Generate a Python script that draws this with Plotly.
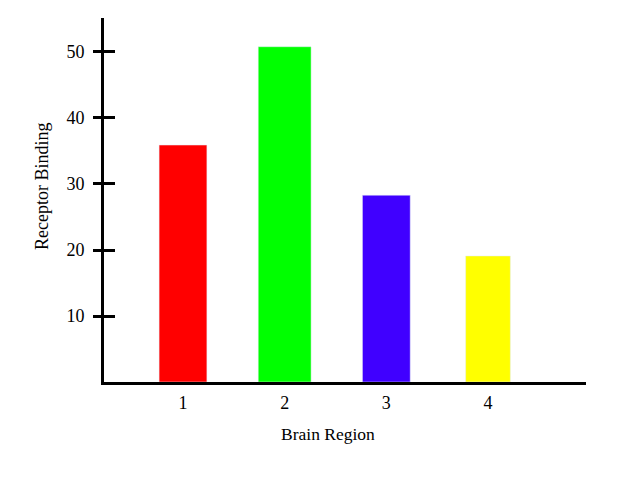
import plotly.graph_objects as go

regions = [1, 2, 3, 4]
region_labels = ["1", "2", "3", "4"]
binding = [35.9, 50.8, 28.3, 19.1]
bar_colors = ["#FF0000", "#00FF00", "#4000FF", "#FFFF00"]
bar_widths = [0.47, 0.52, 0.47, 0.44]
y_ticks = [10, 20, 30, 40, 50]

FONT = "Liberation Serif, Times New Roman, serif"

fig = go.Figure()
fig.add_trace(go.Bar(x=regions, y=binding, width=bar_widths,
                     marker=dict(color=bar_colors, line=dict(width=0)),
                     showlegend=False))
# invisible twin trace to carry the inner half of the y ticks
fig.add_trace(go.Bar(x=regions, y=binding, width=bar_widths, yaxis="y2",
                     marker=dict(color="rgba(0,0,0,0)"), hoverinfo="skip",
                     showlegend=False))

fig.update_layout(
    width=616, height=472,
    margin=dict(l=96, r=38, t=10, b=98),
    paper_bgcolor="white", plot_bgcolor="white",
    font=dict(family=FONT, size=18, color="black"),
    barmode="overlay",
    xaxis=dict(range=[0.223, 4.964], tickvals=regions, ticktext=region_labels,
               showgrid=False, zeroline=False, showline=True, linecolor="black",
               linewidth=3, ticks="", ticklabelstandoff=2),
    yaxis=dict(range=[0, 55.15], tickvals=y_ticks, showgrid=False, zeroline=False,
               showline=True, linecolor="black", linewidth=3,
               ticks="outside", ticklen=8, tickwidth=3, tickcolor="black",
               ticklabelstandoff=5),
    yaxis2=dict(range=[0, 55.15], overlaying="y", side="left", tickvals=y_ticks,
                showticklabels=False, showgrid=False, zeroline=False, showline=False,
                ticks="inside", ticklen=11, tickwidth=3, tickcolor="black"),
    annotations=[
        dict(text="Brain Region", xref="paper", yref="paper", x=(328 - 104) / 482,
             y=-(434 - 382) / 364, xanchor="center", yanchor="middle",
             showarrow=False, font=dict(family=FONT, size=17.5)),
        dict(text="Receptor Binding", xref="paper", yref="paper", x=-(104 - 42) / 482,
             y=(382 - 187) / 364, xanchor="center", yanchor="middle", textangle=-90,
             showarrow=False, font=dict(family=FONT, size=18)),
    ],
)

fig.write_html("out.html")
